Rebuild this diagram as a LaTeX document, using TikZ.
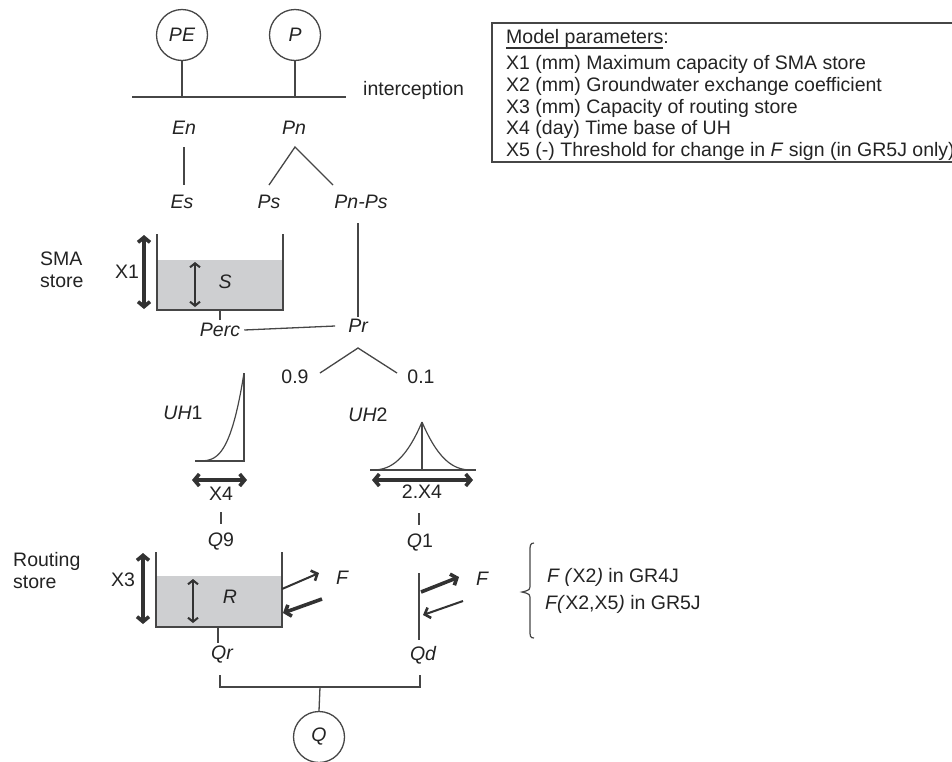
\documentclass[tikz,border=0pt]{standalone}
\usepackage{fontspec}
\setmainfont{Liberation Sans}
\usetikzlibrary{arrows.meta}
\definecolor{lncol}{RGB}{70,70,70}
\definecolor{dkcol}{RGB}{50,50,50}
\definecolor{txcol}{RGB}{35,35,35}
\definecolor{watcol}{RGB}{206,207,209}
\begin{document}
\begin{tikzpicture}[x=1pt,y=-1pt,
  every node/.style={text=txcol, font=\fontsize{19.5}{21.7}\selectfont, inner sep=0pt},
  var/.style={font=\fontsize{19.5}{21.7}\selectfont\itshape},
  thinln/.style={draw=lncol, line width=1.3pt},
  wall/.style={draw=lncol, line width=1.6pt},
  circ/.style={circle, draw=lncol, line width=1.3pt, minimum size=51pt, inner sep=0pt},
  bigarr/.style={draw=dkcol, line width=3.6pt, {Straight Barb[length=5pt,width=12pt]}-{Straight Barb[length=5pt,width=12pt]}},
  smallarr/.style={draw=dkcol, line width=2pt, {Straight Barb[length=4pt,width=10pt]}-{Straight Barb[length=4pt,width=10pt]}},
  fthin/.style={draw=dkcol, line width=2pt, -{Straight Barb[length=5pt,width=11pt,line width=2.6pt]}},
  fthick/.style={draw=dkcol, line width=3.6pt, -{Straight Barb[length=5pt,width=12pt]}}
]
\useasboundingbox (0,0) rectangle (952,761);
\clip (0,0) rectangle (952,761);

% ---------- top inputs ----------
\node[circ, var] (PE) at (182,35) {PE};
\node[circ, var] (P) at (295,35) {P};
\coordinate (barL) at (132,97);
\coordinate (barR) at (346,97);
\coordinate (barPE) at (182,97);
\coordinate (barP) at (295,97);
\draw[thinln] (barL) -- (barR);
\draw[thinln] (PE.south) -- (barPE);
\draw[thinln] (P.south) -- (barP);
\node[anchor=west] (interc) at (363,90) {interception};

\node[var] (En) at (184,128) {En};
\node[var] (Pn) at (294,128) {Pn};
\coordinate (enA) at (184,147);
\coordinate (enB) at (184,185);
\draw[thinln] (enA) -- (enB);
\coordinate (pnTop) at (295,147);
\coordinate (pnL) at (269,185);
\coordinate (pnR) at (333,185);
\draw[thinln] (pnL) -- (pnTop) -- (pnR);

\node[var] (Es) at (182,202) {Es};
\node[var] (Ps) at (269,202) {Ps};
\node[var] (PnPs) at (361,202) {Pn-Ps};
\coordinate (ppA) at (358,223);
\coordinate (ppB) at (358,317);
\draw[thinln] (ppA) -- (ppB);

% ---------- SMA store ----------
\node[anchor=north west, align=left] (smaL) at (40,252) {SMA\\store};
\fill[watcol] (157,260) rectangle (283,310);
\draw[wall] (157,234) -- (157,310) -- (283,310) -- (283,234);
\node (X1) at (127,272) {X1};
\coordinate (x1T) at (144,235);
\coordinate (x1B) at (144,309);
\draw[bigarr] (x1T) -- (x1B);
\coordinate (sT) at (195,262);
\coordinate (sB) at (195,307);
\draw[smallarr] (sT) -- (sB);
\node[var] (S) at (225,282) {S};
\coordinate (percT) at (220,310);
\coordinate (percB) at (220,320);
\draw[thinln] (percT) -- (percB);
\node[var] (Perc) at (220,330) {Perc};
\node[var] (Pr) at (358,326) {Pr};
\draw[thinln] (Perc.east) ++(4,0) -- ([xshift=-13pt]Pr.west);
\coordinate (prTop) at (358,348);
\coordinate (prL) at (320,373);
\coordinate (prR) at (397,373);
\draw[thinln] (prL) -- (prTop) -- (prR);
\node (n09) at (295,377) {0.9};
\node (n01) at (421,377) {0.1};

% ---------- unit hydrographs ----------
\node (UH1) at (183,413) {\textit{UH}1};
\draw[thinln, line width=1.2pt] plot[domain=0:1, samples=40] ({195+49*\x},{461-88*\x*\x*\x*sqrt(\x)});
\coordinate (uh1T) at (244,373);
\coordinate (uh1B) at (244,461);
\coordinate (uh1L) at (195,461);
\draw[thinln, line width=1.2pt] (uh1T) -- (uh1B) -- (uh1L);
\coordinate (x4L) at (192,480);
\coordinate (x4R) at (247,480);
\draw[bigarr] (x4L) -- (x4R);
\node (X4) at (221,494) {X4};
\coordinate (q9T) at (221,512);
\coordinate (q9B) at (221,524);
\draw[thinln] (q9T) -- (q9B);
\node (Q9) at (221,542) {\textit{Q}9};

\node (UH2) at (368,415) {\textit{UH}2};
\draw[thinln, line width=1.2pt] plot[domain=0:1, samples=40] ({371+51*\x},{470-48*\x*\x*sqrt(\x)});
\draw[thinln, line width=1.2pt] plot[domain=0:1, samples=40] ({473-51*\x},{470-48*\x*\x*sqrt(\x)});
\coordinate (uh2T) at (422,422);
\coordinate (uh2B) at (422,470);
\coordinate (uh2L) at (370,470);
\coordinate (uh2R) at (476,470);
\draw[thinln, line width=1.2pt] (uh2T) -- (uh2B);
\draw[thinln, line width=1.2pt] (uh2L) -- (uh2R);
\coordinate (x42L) at (372,480);
\coordinate (x42R) at (473,480);
\draw[bigarr] (x42L) -- (x42R);
\node (X42) at (422,492) {2.X4};
\coordinate (q1T) at (419,513);
\coordinate (q1B) at (419,525);
\draw[thinln] (q1T) -- (q1B);
\node (Q1) at (420,543) {\textit{Q}1};

% ---------- routing store ----------
\node[anchor=north west, align=left] (rsL) at (13,552) {Routing\\store};
\fill[watcol] (156,576) rectangle (282,627);
\draw[wall] (156,552) -- (156,627) -- (282,627) -- (282,552);
\node (X3) at (123,580) {X3};
\coordinate (x3T) at (143,553);
\coordinate (x3B) at (143,624);
\draw[bigarr] (x3T) -- (x3B);
\coordinate (rT) at (193,579);
\coordinate (rB) at (193,623);
\draw[smallarr] (rT) -- (rB);
\node[var] (R) at (230,597) {R};

\coordinate (f1a) at (282,589);
\coordinate (f1b) at (319,573);
\draw[fthin] (f1a) -- (f1b);
\coordinate (f2a) at (322,599);
\coordinate (f2b) at (283,613);
\draw[fthick] (f2a) -- (f2b);
\node[var] (F1) at (342,578) {F};

\coordinate (qdT) at (419,573);
\coordinate (qdB) at (419,640);
\draw[thinln] (qdT) -- (qdB);
\coordinate (f3a) at (421,592);
\coordinate (f3b) at (459,577);
\draw[fthick] (f3a) -- (f3b);
\coordinate (f4a) at (463,601);
\coordinate (f4b) at (423,615);
\draw[fthin] (f4a) -- (f4b);
\node[var] (F2) at (482,579) {F};

\coordinate (qrT) at (218,627);
\coordinate (qrB) at (218,643);
\draw[thinln] (qrT) -- (qrB);
\node[var] (Qr) at (222,655) {Qr};
\node[var] (Qd) at (423,655) {Qd};

\coordinate (bkL) at (220,675);
\coordinate (bkLB) at (220,687);
\coordinate (bkRB) at (420,687);
\coordinate (bkR) at (420,675);
\draw[thinln] (bkL) -- (bkLB) -- (bkRB) -- (bkR);
\node[circ, var] (Q) at (319,737) {Q};
\coordinate (bkM) at (320,687);
\draw[thinln] (bkM) -- (Q.north);

% ---------- brace and F notes ----------
\draw[draw=lncol, line width=1.2pt] (534,543) .. controls (530,543) and (530,546) .. (530,551) -- (530,584) .. controls (530,590) .. (522,592) .. controls (530,594) .. (530,600) -- (530,630) .. controls (530,636) and (530,638) .. (534,638);
\node[anchor=base west] (gr4) at (547,582) {\textit{F (}X2\textit{)} in GR4J};
\node[anchor=base west] (gr5) at (545,609) {\textit{F(}X2,X5\textit{)} in GR5J};

% ---------- legend ----------
\draw[draw=lncol, line width=1.5pt] (960,23) -- (492,23) -- (492,162) -- (960,162);
\node[anchor=base west] (lg0) at (506,43) {Model parameters:};
\draw[draw=dkcol, line width=2.2pt] (506,48) -- (663,48);
\node[anchor=base west] (lg1) at (506,69) {X1 (mm) Maximum capacity of SMA store};
\node[anchor=base west] (lg2) at (506,91) {X2 (mm) Groundwater exchange coefficient};
\node[anchor=base west] (lg3) at (506,113) {X3 (mm) Capacity of routing store};
\node[anchor=base west] (lg4) at (506,134) {X4 (day) Time base of UH};
\node[anchor=base west] (lg5) at (506,156) {X5 (-) Threshold for change in \textit{F} sign (in GR5J only)};
\end{tikzpicture}
\end{document}
